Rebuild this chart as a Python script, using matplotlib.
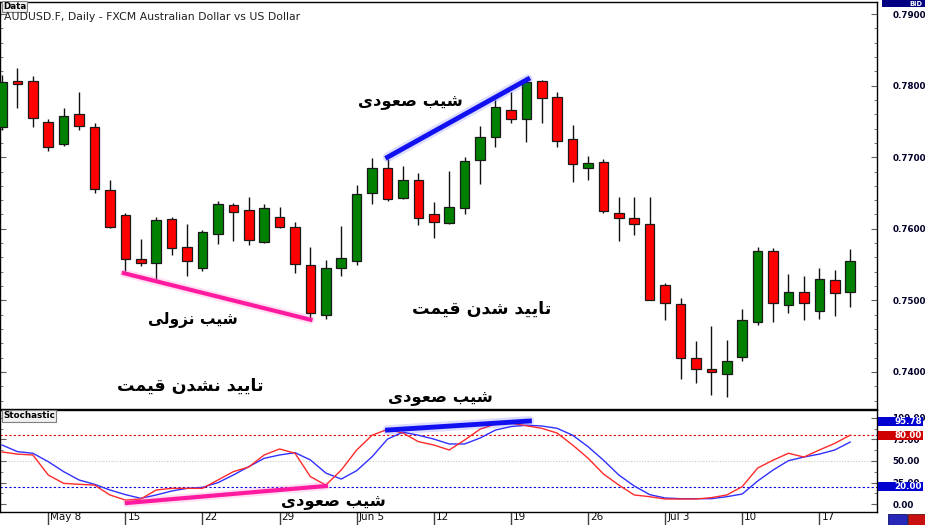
import numpy as np
import matplotlib
matplotlib.use('Agg')
import matplotlib.pyplot as plt
from matplotlib.patches import Rectangle
from matplotlib.ticker import MultipleLocator, FixedLocator
from matplotlib.transforms import blended_transform_factory, ScaledTranslation

# daily candles, one per trading day
opens = [0.7742, 0.7806, 0.7806, 0.7749, 0.7718, 0.7760, 0.7742, 0.7654, 0.7619, 0.7558,
         0.7552, 0.7614, 0.7575, 0.7545, 0.7593, 0.7633, 0.7626, 0.7582, 0.7617, 0.7603,
         0.7549, 0.7480, 0.7545, 0.7555, 0.7650, 0.7685, 0.7643, 0.7668, 0.7621, 0.7608,
         0.7629, 0.7696, 0.7728, 0.7766, 0.7753, 0.7806, 0.7784, 0.7725, 0.7685, 0.7693,
         0.7622, 0.7615, 0.7607, 0.7522, 0.7495, 0.7420, 0.7404, 0.7397, 0.7421, 0.7470,
         0.7569, 0.7494, 0.7512, 0.7485, 0.7529, 0.7512]
highs = [0.7815, 0.7825, 0.7813, 0.7753, 0.7769, 0.7791, 0.7748, 0.7668, 0.7622, 0.7586,
         0.7617, 0.7617, 0.7607, 0.7598, 0.7639, 0.7636, 0.7644, 0.7635, 0.7631, 0.7610,
         0.7575, 0.7556, 0.7604, 0.7661, 0.7699, 0.7697, 0.7688, 0.7678, 0.7637, 0.7681,
         0.7700, 0.7744, 0.7780, 0.7791, 0.7812, 0.7808, 0.7791, 0.7745, 0.7702, 0.7698,
         0.7644, 0.7644, 0.7644, 0.7524, 0.7503, 0.7443, 0.7464, 0.7445, 0.7488, 0.7575,
         0.7573, 0.7537, 0.7534, 0.7545, 0.7543, 0.7572]
lows = [0.7738, 0.7769, 0.7742, 0.7709, 0.7716, 0.7738, 0.7650, 0.7601, 0.7541, 0.7548,
        0.7530, 0.7563, 0.7534, 0.7541, 0.7579, 0.7583, 0.7577, 0.7580, 0.7601, 0.7538,
        0.7475, 0.7474, 0.7534, 0.7549, 0.7635, 0.7639, 0.7642, 0.7605, 0.7587, 0.7607,
        0.7621, 0.7663, 0.7714, 0.7748, 0.7721, 0.7748, 0.7714, 0.7665, 0.7668, 0.7622,
        0.7583, 0.7591, 0.7500, 0.7473, 0.7390, 0.7385, 0.7368, 0.7365, 0.7415, 0.7466,
        0.7470, 0.7482, 0.7473, 0.7474, 0.7478, 0.7491]
closes = [0.7805, 0.7802, 0.7755, 0.7714, 0.7758, 0.7744, 0.7656, 0.7603, 0.7558, 0.7552,
          0.7612, 0.7573, 0.7555, 0.7596, 0.7635, 0.7624, 0.7584, 0.7629, 0.7603, 0.7551,
          0.7482, 0.7545, 0.7559, 0.7649, 0.7685, 0.7642, 0.7668, 0.7615, 0.7610, 0.7630,
          0.7695, 0.7728, 0.7770, 0.7753, 0.7805, 0.7783, 0.7723, 0.7691, 0.7692, 0.7625,
          0.7615, 0.7607, 0.7501, 0.7496, 0.7420, 0.7404, 0.7400, 0.7415, 0.7473, 0.7569,
          0.7496, 0.7512, 0.7496, 0.7530, 0.7510, 0.7555]

# stochastic oscillator (%K red, %D blue)
stoch_k = [60.5, 58, 57, 33.7, 24, 22.9, 22, 10.5, 4.6, 5.8, 16.3, 18.2, 18.2, 18.2, 27.9,
           37.6, 43, 57, 64, 59, 31.8, 22, 39.5, 62.8, 80, 86.8, 82.5, 72.5, 68.6, 62.8,
           74.4, 87, 93, 94, 91, 88, 82.5, 68.6, 53.3, 34.9, 22, 10.5, 8.5, 5.8, 5.8, 5.8,
           7.4, 10.5, 20.2, 41.8, 51, 59, 54.6, 62.8, 70.5, 80]
stoch_d = [68.6, 60.9, 59, 49.2, 37.6, 27.9, 22.9, 16.3, 10.9, 6.6, 10.5, 15.1, 18.2, 19.4,
           24.8, 33.7, 43.4, 53.1, 57, 59.7, 51.2, 36, 29, 38.8, 55, 75.5, 83.5, 80, 75.5,
           69.8, 69.8, 76.7, 86, 90, 91.6, 90.7, 88, 80, 66.7, 51, 33.7, 20.9, 10.9, 7,
           6.2, 6.2, 6.2, 8.5, 11.6, 26.7, 39.5, 50.4, 54.6, 58, 62.8, 72]

date_idx = [3, 8, 13, 18, 23, 28, 33, 38, 43, 48, 53]
date_labels = ['May 8', '15', '22', '29', 'Jun 5', '12', '19', '26', 'Jul 3', '10', '17']
price_ticks = [0.74, 0.75, 0.76, 0.77, 0.78, 0.79]
stoch_ticks = [0, 25, 50, 75, 100]
stoch_boxes = [(95.78, '95.78', '#0000d0'), (80.0, '80.00', '#d00000'), (20.0, '20.00', '#0000d0')]

# divergence lines (candle index, value)
price_rise = ([25.0, 34.1], [0.7700, 0.7809])
price_fall = ([7.9, 20.0], [0.7538, 0.7473])
stoch_rise = ([25.0, 34.2], [86.0, 96.5])
stoch_rise2 = ([8.1, 21.0], [1.2, 20.9])

TITLE = 'AUDUSD.F, Daily - FXCM Australian Dollar vs US Dollar'
TXT_UP = 'شیب صعودی'
TXT_DOWN = 'شیب نزولی'
TXT_OK = 'تایید شدن قیمت'
TXT_NOK = 'تایید نشدن قیمت'

# contextual forms: isolated, final, initial, medial
FORMS = {
    'ا': (0xFE8D, 0xFE8E), 'ب': (0xFE8F, 0xFE90, 0xFE91, 0xFE92),
    'ت': (0xFE95, 0xFE96, 0xFE97, 0xFE98), 'د': (0xFEA9, 0xFEAA),
    'ز': (0xFEAF, 0xFEB0), 'ش': (0xFEB5, 0xFEB6, 0xFEB7, 0xFEB8),
    'ص': (0xFEB9, 0xFEBA, 0xFEBB, 0xFEBC), 'ع': (0xFEC9, 0xFECA, 0xFECB, 0xFECC),
    'ق': (0xFED5, 0xFED6, 0xFED7, 0xFED8), 'ل': (0xFEDD, 0xFEDE, 0xFEDF, 0xFEE0),
    'م': (0xFEE1, 0xFEE2, 0xFEE3, 0xFEE4), 'ن': (0xFEE5, 0xFEE6, 0xFEE7, 0xFEE8),
    'و': (0xFEED, 0xFEEE), 'ی': (0xFEEF, 0xFEF0, 0xFEF3, 0xFEF4),
}


def shape(text):
    """join persian letters and put them in visual order"""
    out = []
    for k, c in enumerate(text):
        f = FORMS.get(c)
        if f is None:
            out.append(c)
            continue
        prev = text[k-1] if k > 0 else ' '
        nxt = text[k+1] if k < len(text)-1 else ' '
        join_prev = prev in FORMS and len(FORMS[prev]) == 4
        join_next = len(f) == 4 and nxt in FORMS
        if join_prev and join_next:
            out.append(chr(f[3]))
        elif join_prev:
            out.append(chr(f[1]))
        elif join_next:
            out.append(chr(f[2]))
        else:
            out.append(chr(f[0]))
    return ''.join(out[::-1])


fig = plt.figure(figsize=(9.25, 5.25), dpi=100)
W, H = 925.0, 525.0
ax = fig.add_axes([0, 1-409/H, 877/W, 407/H])
ax2 = fig.add_axes([0, 1-512/H, 877/W, 102/H])

x = np.arange(len(opens))
o, h, l, c = map(np.array, (opens, highs, lows, closes))
up = c >= o
colors = np.where(up, '#008000', '#ff0000')
ax.vlines(x, l, h, color='#111111', lw=1, zorder=2)
body = np.maximum(np.abs(c-o), 0.00004)
ax.bar(x, body, bottom=np.minimum(o, c), width=0.62, color=colors,
       edgecolor='#1a1a1a', linewidth=0.9, zorder=3)

ax.plot(*price_rise, color='#4040ff', lw=7, alpha=0.18, solid_capstyle='round', zorder=4)
ax.plot(*price_rise, color='#1010f0', lw=3.5, zorder=5)
ax.plot(*price_fall, color='#ff60c0', lw=6, alpha=0.2, solid_capstyle='round', zorder=4)
ax.plot(*price_fall, color='#ff1aa0', lw=3, zorder=5)

ax.set_xlim(-0.13, 56.74)
ax.set_ylim(0.73483, 0.79168)
ax.set_xticks([])
ax.yaxis.tick_right()
ax.yaxis.set_major_locator(FixedLocator(price_ticks))
ax.yaxis.set_minor_locator(MultipleLocator(0.002))
ax.set_yticklabels(['%.4f' % p for p in price_ticks], fontsize=6.3,
                   fontweight='bold', color='#00002a')
ax.tick_params(axis='y', which='both', direction='in', left=True, right=True,
               color='#606060', pad=11)
ax.tick_params(axis='y', which='major', length=4)
ax.tick_params(axis='y', which='minor', length=2.5)
for s in ax.spines.values():
    s.set_color('#000000')
    s.set_linewidth(1)

pfont = dict(family=['DejaVu Sans'], fontweight='bold', color='#000000',
             ha='center', va='center')
ax.text(26.5, 0.7776, shape(TXT_UP), zorder=6, fontsize=11.8, **pfont)
ax.text(12.4, 0.7473, shape(TXT_DOWN), zorder=6, fontsize=11.2, **pfont)
ax.text(12.2, 0.7381, shape(TXT_NOK), zorder=6, fontsize=12.5, **pfont)
ax.text(31.1, 0.7488, shape(TXT_OK), zorder=6, fontsize=12.5, **pfont)
ax.text(28.4, 0.7363, shape(TXT_UP), zorder=6, fontsize=11.8, **pfont)

# stochastic panel
ax2.axhline(80, color='#e00000', lw=0.8, ls=(0, (2, 2)), zorder=1)
ax2.axhline(20, color='#0000e0', lw=0.8, ls=(0, (2, 2)), zorder=1)
ax2.axhline(50, color='#c8c8c8', lw=0.8, ls=(0, (1, 1.5)), zorder=1)
ax2.plot(x, stoch_d, color='#3030ff', lw=1, zorder=3)
ax2.plot(x, stoch_k, color='#ff2a2a', lw=1, zorder=3)
ax2.plot(*stoch_rise, color='#4040ff', lw=7, alpha=0.18, solid_capstyle='round', zorder=4)
ax2.plot(*stoch_rise, color='#1010f0', lw=3.5, zorder=5)
ax2.plot(*stoch_rise2, color='#ff60c0', lw=6, alpha=0.2, solid_capstyle='round', zorder=4)
ax2.plot(*stoch_rise2, color='#ff1aa0', lw=3, zorder=5)
ax2.text(21.5, 2.3, shape(TXT_UP), zorder=7, clip_on=False, fontsize=11.8,
         bbox=dict(boxstyle='square,pad=0.1', fc='white', ec='none'), **pfont)

ax2.set_xlim(-0.13, 56.74)
ax2.set_ylim(-9.3, 109.3)
ax2.yaxis.tick_right()
ax2.yaxis.set_major_locator(FixedLocator(stoch_ticks))
ax2.yaxis.set_minor_locator(MultipleLocator(12.5))
ax2.set_yticklabels(['%.2f' % v for v in stoch_ticks], fontsize=6.3,
                    fontweight='bold', color='#00002a')
ax2.tick_params(axis='y', which='both', direction='in', left=True, right=True,
                color='#606060', pad=11)
ax2.tick_params(axis='y', which='major', length=4)
ax2.tick_params(axis='y', which='minor', length=2.5)
ax2.set_xticks(date_idx)
ax2.set_xticklabels(date_labels, fontsize=7.5, color='#101010', ha='left')
ax2.tick_params(axis='x', length=9, width=1, color='#404040', pad=-9)
shift = ScaledTranslation(0.02, 0, fig.dpi_scale_trans)
for lbl in ax2.get_xticklabels():
    lbl.set_transform(lbl.get_transform() + shift)
for s in ax2.spines.values():
    s.set_color('#000000')
    s.set_linewidth(1)

# value boxes on the right scale
bt = blended_transform_factory(fig.transFigure, ax2.transData)
for val, lab, col in stoch_boxes:
    fig.add_artist(Rectangle((878/W, val-5.2), 45/W, 10.4, transform=bt,
                             fc=col, ec='none', zorder=10))
    fig.text(922/W, val, lab, transform=bt, ha='right', va='center', fontsize=6.3,
             fontweight='bold', color='white', zorder=11)

# header texts
fig.text(3/W, 1-6.5/H, 'Data', fontsize=6.3, fontweight='bold', va='center', color='#000000',
         bbox=dict(boxstyle='square,pad=0.12', fc='#f0f0f0', ec='#808080', lw=0.8))
fig.text(4/W, 1-17/H, TITLE, fontsize=7.8, va='center', color='#202020')
fig.text(3/W, 1-416/H, 'Stochastic', fontsize=6.3, fontweight='bold', va='center',
         color='#000000', bbox=dict(boxstyle='square,pad=0.12', fc='#f0f0f0', ec='#808080', lw=0.8))
fig.add_artist(Rectangle((882/W, 1-7/H), 43/W, 7/H, fc='#000080', ec='none'))
fig.text(922/W, 1-3.5/H, 'BID', fontsize=4.8, fontweight='bold', color='white',
         ha='right', va='center')
fig.add_artist(Rectangle((888/W, 0), 19/W, 11/H, fc='#2828b8', ec='#101060', lw=0.6))
fig.add_artist(Rectangle((908/W, 0), 17/W, 11/H, fc='#c81010', ec='#601010', lw=0.6))

fig.savefig('out.png', dpi=100)
